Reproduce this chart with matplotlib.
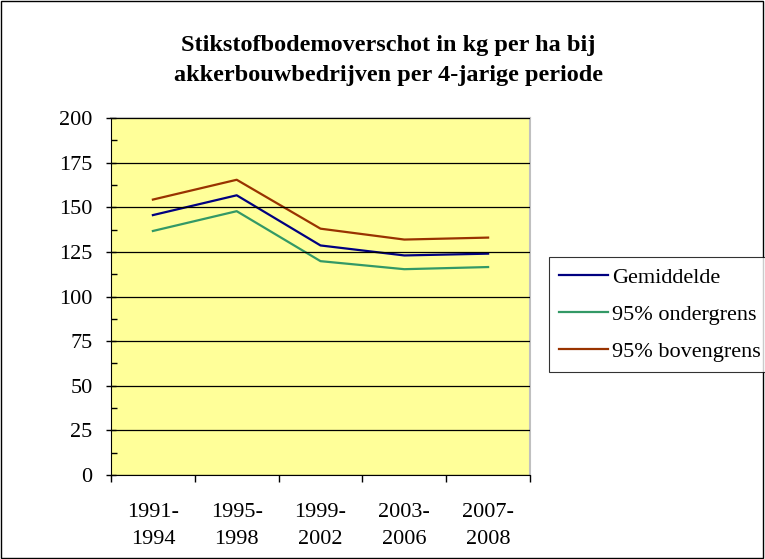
import matplotlib.pyplot as plt
import matplotlib.patches as mpatches
import numpy as np

# categories and series
periods = ["1991-\n1994", "1995-\n1998", "1999-\n2002", "2003-\n2006", "2007-\n2008"]
gemiddelde = [145.6, 156.7, 128.6, 123.0, 124.0]
ondergrens = [136.7, 147.8, 119.8, 115.3, 116.5]
bovengrens = [154.3, 165.4, 138.0, 131.9, 133.0]
title_lines = ["Stikstofbodemoverschot in kg per ha bij",
               "akkerbouwbedrijven per 4-jarige periode"]

plt.rcParams['font.family'] = ['Liberation Serif', 'DejaVu Serif']

fig = plt.figure(figsize=(7.65, 5.59), dpi=100)
fig.patches.append(mpatches.Rectangle((0.001, 0.001), 0.997, 0.997, transform=fig.transFigure,
                                      fill=False, edgecolor='black', linewidth=1.0))

ax = fig.add_axes([111/765, 84/559, 419/765, 357/559])
ax.set_facecolor('#FFFF99')

x = np.arange(len(periods))
ax.plot(x, gemiddelde, color='#000080', linewidth=1.6, label='Gemiddelde')
ax.plot(x, ondergrens, color='#339966', linewidth=1.6, label='95% ondergrens')
ax.plot(x, bovengrens, color='#993300', linewidth=1.6, label='95% bovengrens')

ax.set_xlim(-0.5, len(periods) - 0.5)
ax.set_ylim(0, 200)
ax.set_yticks(np.arange(0, 201, 25))
ax.set_yticks(np.arange(12.5, 200, 25), minor=True)
ax.set_xticks(np.arange(-0.5, len(periods), 1.0))
ax.set_xticklabels([])
ax.set_xticks(x, minor=True)
ax.set_xticklabels(periods, minor=True, fontsize=16, linespacing=1.55)
ax.tick_params(axis='x', which='minor', length=0, pad=20.5)
ax.tick_params(axis='x', which='major', direction='out', length=5, width=1)
ax.tick_params(axis='y', which='major', direction='inout', length=7.5, width=1, labelsize=16, pad=9.5)
ax.tick_params(axis='y', which='minor', direction='in', length=4, width=1)

ax.grid(True, axis='y', which='major', color='black', linewidth=0.9)
ax.set_axisbelow(False)
for s in ['top', 'right']:
    ax.spines[s].set_color('#c0c0c0')
    ax.spines[s].set_linewidth(1.5)
for s in ['left', 'bottom']:
    ax.spines[s].set_color('black')

fig.text(388/765, 1 - 45/559, title_lines[0], ha='center', va='center',
         fontsize=17.5, fontweight='bold')
fig.text(388/765, 1 - 76/559, title_lines[1], ha='center', va='center',
         fontsize=17.5, fontweight='bold')

leg = fig.legend(loc='upper left', bbox_to_anchor=(549/765, 1 - 257/559), fontsize=16,
                 frameon=True, fancybox=False, edgecolor='black', handlelength=2.2,
                 handletextpad=0.2, labelspacing=0.75, borderpad=0.45, borderaxespad=0)
leg.get_frame().set_linewidth(0.8)
for l in leg.get_lines():
    l.set_linewidth(1.6)

fig.savefig('out.png', dpi=100)
